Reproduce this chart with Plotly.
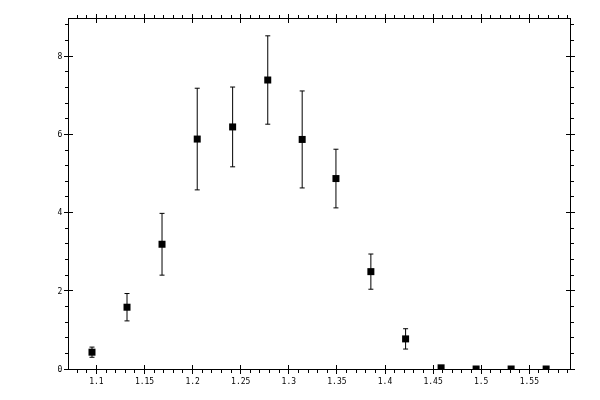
import plotly.graph_objects as go

# bin centres, values and errors
x_vals = [1.0954, 1.1318, 1.1682, 1.2048, 1.2416, 1.2781, 1.3139,
          1.3490, 1.3853, 1.4214, 1.4583, 1.4947, 1.5311, 1.5675]
y_vals = [0.43, 1.58, 3.19, 5.88, 6.19, 7.39, 5.87,
          4.87, 2.49, 0.77, 0.03, 0.0, 0.0, 0.0]
y_err = [0.13, 0.35, 0.79, 1.30, 1.02, 1.13, 1.24,
         0.75, 0.45, 0.26, 0.0, 0.0, 0.0, 0.0]

x_range = [1.0715, 1.5923]
y_range = [0, 8.95]

fig = go.Figure()

fig.add_trace(go.Scatter(
    x=x_vals, y=y_vals,
    mode='markers',
    marker=dict(symbol='square', size=7, color='black'),
    error_y=dict(type='data', array=y_err, visible=True,
                 color='black', thickness=1, width=2.5),
    showlegend=False,
))

# dummy trace so the overlay axes (inner half of the major ticks) get drawn
fig.add_trace(go.Scatter(
    x=x_vals, y=y_vals, mode='markers', opacity=0,
    xaxis='x2', yaxis='y2', hoverinfo='skip', showlegend=False,
))

tick_font = dict(family='DejaVu Sans Mono', size=8, color='black')

# page body has an 8px margin, so the margins are shifted by that
fig.update_layout(
    width=600, height=400,
    margin=dict(l=61, r=38, t=11, b=39, autoexpand=False),
    paper_bgcolor='white', plot_bgcolor='white',
    xaxis=dict(
        range=x_range, dtick=0.05, tick0=1.0, automargin=False,
        ticks='outside', ticklen=4, tickwidth=1, tickcolor='black',
        minor=dict(ticks='outside', ticklen=3, dtick=0.01, tick0=1.0,
                   tickcolor='black', tickwidth=1),
        showline=True, linecolor='black', linewidth=1, mirror='ticks',
        showgrid=False, zeroline=False, tickfont=tick_font,
    ),
    yaxis=dict(
        range=y_range, dtick=2, tick0=0, automargin=False,
        ticks='outside', ticklen=4, tickwidth=1, tickcolor='black',
        minor=dict(ticks='outside', ticklen=3, dtick=0.4, tick0=0,
                   tickcolor='black', tickwidth=1),
        showline=True, linecolor='black', linewidth=1, mirror='ticks',
        showgrid=False, zeroline=False, tickfont=tick_font,
    ),
    xaxis2=dict(
        range=x_range, dtick=0.05, tick0=1.0, overlaying='x',
        ticks='inside', ticklen=4, tickwidth=1, tickcolor='black',
        showticklabels=False, showline=False, mirror='ticks',
        showgrid=False, zeroline=False, automargin=False,
    ),
    yaxis2=dict(
        range=y_range, dtick=2, tick0=0, overlaying='y',
        ticks='inside', ticklen=4, tickwidth=1, tickcolor='black',
        showticklabels=False, showline=False, mirror='ticks',
        showgrid=False, zeroline=False, automargin=False,
    ),
)

fig.write_html("out.html")
